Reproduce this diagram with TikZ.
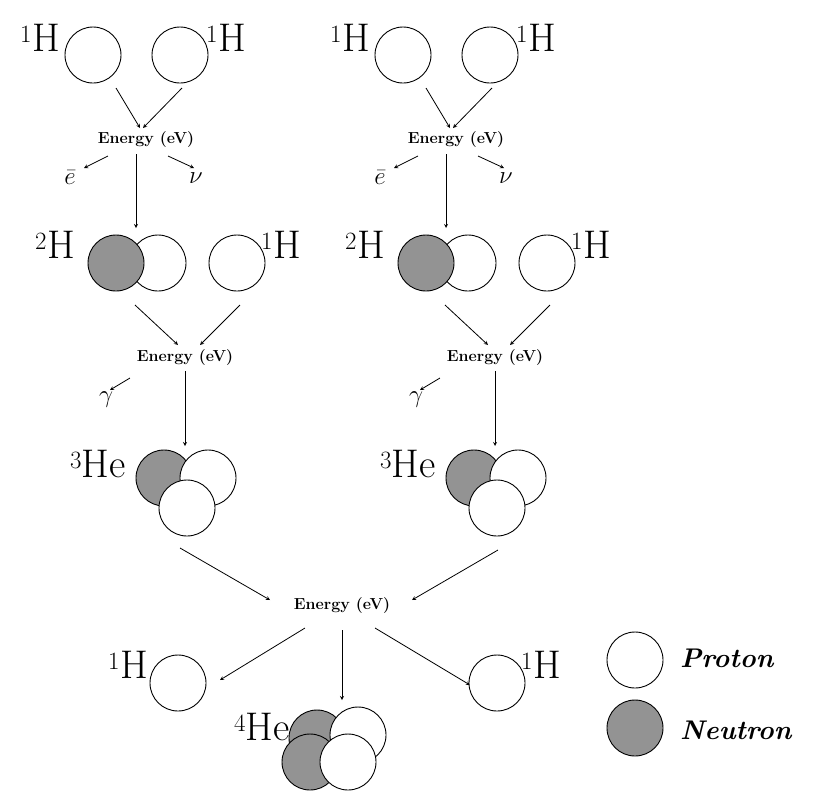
\documentclass[tikz,border=0pt]{standalone}
\usepackage{amsmath}
\begin{document}
\begin{tikzpicture}[x=1pt,y=-1pt,
  prot/.style={circle,draw,fill=white,minimum size=56pt,inner sep=0pt,line width=0.9pt},
  neut/.style={circle,draw,fill=gray!85,minimum size=56pt,inner sep=0pt,line width=0.9pt},
  lab/.style={font=\fontsize{40}{44}\selectfont,inner sep=0pt},
  en/.style={font=\fontsize{16}{19}\selectfont\bfseries,inner sep=2pt},
  leg/.style={font=\fontsize{27}{30}\selectfont\bfseries\itshape,anchor=west,inner sep=0pt},
  arr/.style={-stealth,line width=0.8pt}]
\useasboundingbox (0,0) rectangle (817,807);
\foreach \o/\s in {0/L,310/R}{
  \begin{scope}[xshift=\o pt]
  \node[prot] (a\s) at (93,55) {};
  \node[lab] (la\s) at (40,38) {$^1$H};
  \node[prot] (b\s) at (180,55) {};
  \node[lab] (lb\s) at (226,38) {$^1$H};
  \node[en] (e1\s) at (146,140) {Energy (eV)};
  \draw[arr] (116,88) -- (140,128);
  \draw[arr] (182,88) -- (143,128);
  \node[lab] (eb\s) at (70,178) {$\bar{e}$};
  \node[lab] (nu\s) at (196,178) {$\nu$};
  \draw[arr] (108,156) -- (84,168);
  \draw[arr] (168,156) -- (194,168);
  \draw[arr] (136,154) -- (136,228);
  \node[prot] (d2\s) at (158,263) {};
  \node[neut] (d1\s) at (116,263) {};
  \node[lab] (ld\s) at (55,245) {$^2$H};
  \node[prot] (c\s) at (237,263) {};
  \node[lab] (lc\s) at (281,245) {$^1$H};
  \node[en] (e2\s) at (185,357) {Energy (eV)};
  \draw[arr] (135,305) -- (178,345);
  \draw[arr] (240,305) -- (200,345);
  \node[lab] (g\s) at (106,400) {$\gamma$};
  \draw[arr] (130,378) -- (110,390);
  \draw[arr] (185,371) -- (185,446);
  \node[neut] (h1\s) at (164,478) {};
  \node[prot] (h2\s) at (208,478) {};
  \node[prot] (h3\s) at (187,508) {};
  \node[lab] (lh\s) at (98,464) {$^3$He};
  \end{scope}}
\node[en] (e3) at (342,605) {Energy (eV)};
\draw[arr] (180,548) -- (270,600);
\draw[arr] (498,550) -- (412,600);
\draw[arr] (305,628) -- (220,680);
\draw[arr] (342,630) -- (342,700);
\draw[arr] (375,628) -- (470,685);
\node[prot] (p1) at (178,683) {};
\node[lab] (lp1) at (128,665) {$^1$H};
\node[prot] (p2) at (497,683) {};
\node[lab] (lp2) at (541,665) {$^1$H};
\node[neut] (f1) at (317,738) {};
\node[prot] (f2) at (358,735) {};
\node[neut] (f3) at (310,762) {};
\node[prot] (f4) at (348,762) {};
\node[lab] (lf) at (262,727) {$^4$He};
\node[prot] (lgp) at (635,660) {};
\node[leg] (tp) at (680,658) {Proton};
\node[neut] (lgn) at (635,728) {};
\node[leg] (tn) at (680,730) {Neutron};
\end{tikzpicture}
\end{document}
